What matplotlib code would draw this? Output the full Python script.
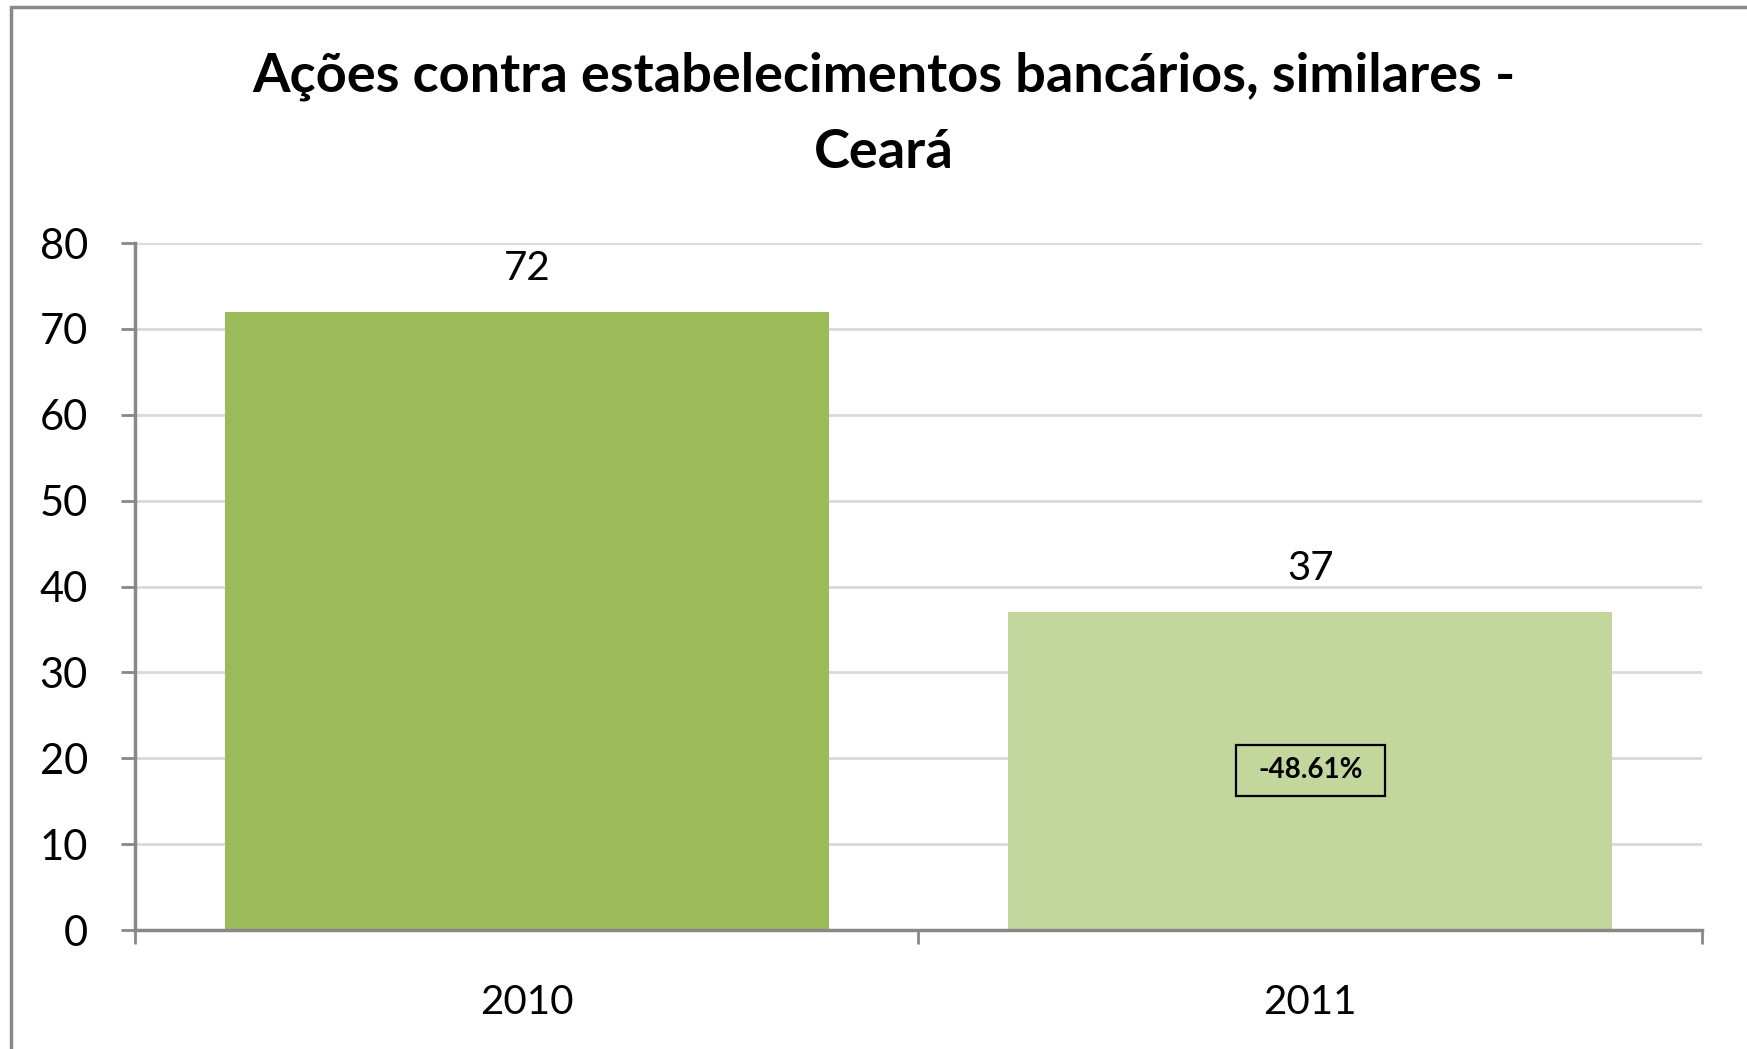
import numpy as np
import matplotlib.pyplot as plt
from matplotlib.patches import Rectangle

# Data
years = ['2010', '2011']
acoes = [72, 37]
bar_colors = ['#9BBB59', '#C3D69B']
yticks = [0, 10, 20, 30, 40, 50, 60, 70, 80]

variacao = (acoes[1] - acoes[0]) / acoes[0] * 100

plt.rcParams['font.family'] = ['Lato', 'DejaVu Sans']

fig = plt.figure(figsize=(17.47, 10.49), dpi=100)
ax = fig.add_axes([0.0773, 0.1134, 0.8969, 0.6549])

x = np.arange(len(years))
ax.bar(x, acoes, width=0.771, color=bar_colors, zorder=2)

# value labels
for xi, v in zip(x, acoes):
    ax.annotate(f'{v}', (xi, v), xytext=(0, 18), textcoords='offset points',
                ha='center', va='bottom', fontsize=29)

ax.set_xlim(-0.5, 1.5)
ax.set_ylim(0, 80)
ax.set_yticks(yticks)
ax.set_xticks([-0.5, 0.5, 1.5], minor=False)
ax.set_xticklabels(['', '', ''])
ax.set_xticks(x, minor=True)
ax.set_xticklabels(years, minor=True)
ax.tick_params(axis='x', which='minor', length=0, pad=39, labelsize=29)
ax.tick_params(axis='x', which='major', length=10, width=2, color='#888888')
ax.tick_params(axis='y', length=10, width=2, color='#888888', labelsize=30, pad=24)

ax.grid(axis='y', color='#D9D9D9', linewidth=2, zorder=0)
for s in ['top', 'right']:
    ax.spines[s].set_visible(False)
for s in ['left', 'bottom']:
    ax.spines[s].set_color('#888888')
    ax.spines[s].set_linewidth(2.5)
    ax.spines[s].set_zorder(3)

# variation box (text + frame in pixels around it)
box_x, box_y = x[1], 18.6
ax.text(box_x, box_y, f'{variacao:.2f}%', ha='center', va='center',
        fontsize=20, fontweight='bold', zorder=4)
cx, cy = ax.transData.transform((box_x, box_y))
bw, bh = 149, 51
fig.patches.append(Rectangle((cx - bw / 2, cy - bh / 2), bw, bh, transform=None,
                             fill=False, edgecolor='black', linewidth=1.6,
                             zorder=5))

fig.text(0.506, 0.927, 'Ações contra estabelecimentos bancários, similares -',
         ha='center', va='center', fontsize=39, fontweight='bold')
fig.text(0.506, 0.855, 'Ceará', ha='center', va='center',
         fontsize=39, fontweight='bold')

# outer chart border
fig.patches.append(Rectangle((11 / 1747, -0.1), 2, 1.1 - 7 / 1049,
                             transform=fig.transFigure, fill=False,
                             edgecolor='#898989', linewidth=2.5))

plt.savefig('out.png', dpi=100)
